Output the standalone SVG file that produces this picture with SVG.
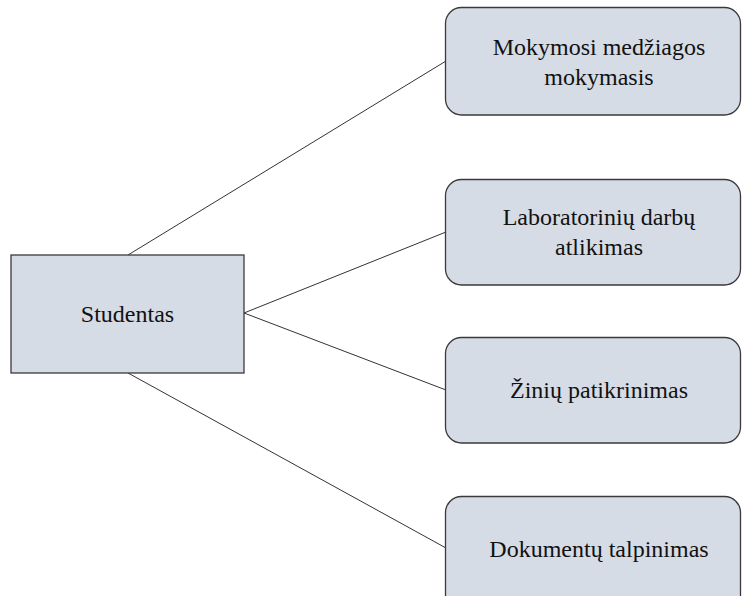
<svg xmlns="http://www.w3.org/2000/svg" width="742" height="596" viewBox="0 0 742 596">
  <style>
    .box { fill: #d6dce5; stroke: #3a3a3a; stroke-width: 1.3; }
    .edge { stroke: #333333; stroke-width: 1; fill: none; }
    text { font-family: 'Times New Roman', 'Liberation Serif', serif; font-size: 24px; fill: #111111; text-anchor: middle; }
  </style>
  <rect width="742" height="596" fill="#ffffff"/>

  <!-- links from the student to each activity -->
  <g id="connectors">
    <line class="edge" x1="128" y1="255" x2="446" y2="61"/>
    <line class="edge" x1="244" y1="313" x2="446" y2="232"/>
    <line class="edge" x1="244" y1="313" x2="446" y2="390"/>
    <line class="edge" x1="128" y1="373" x2="446" y2="548"/>
  </g>

  <g id="studentas">
    <rect class="box" x="11" y="255" width="233" height="118"/>
    <text x="127.5" y="322">Studentas</text>
  </g>

  <g id="mokymosi-medziagos">
    <rect class="box" x="445.5" y="7.5" width="295" height="107.5" rx="16" ry="16"/>
    <text x="599" y="55">Mokymosi medžiagos</text>
    <text x="599" y="85">mokymasis</text>
  </g>

  <g id="laboratoriniu-darbu">
    <rect class="box" x="445.5" y="179.5" width="295" height="105.5" rx="16" ry="16"/>
    <text x="599" y="225">Laboratorinių darbų</text>
    <text x="599" y="255">atlikimas</text>
  </g>

  <g id="ziniu-patikrinimas">
    <rect class="box" x="445.5" y="337.5" width="295" height="105.5" rx="16" ry="16"/>
    <text x="599" y="398">Žinių patikrinimas</text>
  </g>

  <g id="dokumentu-talpinimas">
    <rect class="box" x="445.5" y="496.5" width="295" height="115" rx="16" ry="16"/>
    <text x="599" y="557">Dokumentų talpinimas</text>
  </g>
</svg>
